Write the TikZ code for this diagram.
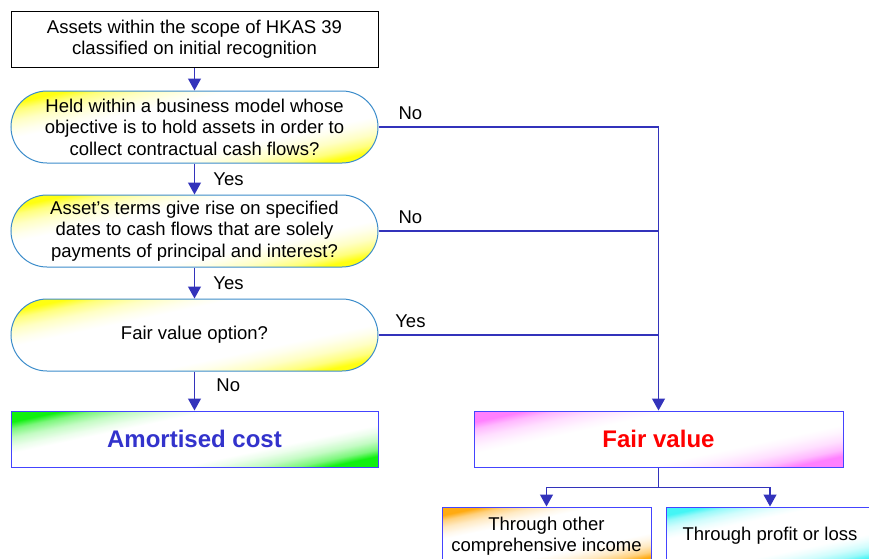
\documentclass[tikz,border=0pt]{standalone}
\usepackage{fontspec}
\setmainfont{Liberation Sans}
\usetikzlibrary{arrows.meta}
\definecolor{conncol}{HTML}{3333BB}
\definecolor{qborder}{HTML}{3C8DCB}
\definecolor{rborder}{HTML}{4444FF}
\definecolor{cY}{HTML}{FFFF11}
\definecolor{cG}{HTML}{11F011}
\definecolor{cV}{HTML}{FF80FF}
\definecolor{cO}{HTML}{FFAA11}
\definecolor{cC}{HTML}{44F5F5}
\definecolor{acblue}{HTML}{3333CC}
\newcommand\mkdiag[2]{\pgfdeclareverticalshading{#1}{100bp}{color(0bp)=(#2); color(25bp)=(#2); color(28bp)=(#2!55!white); color(32bp)=(#2!25!white); color(36bp)=(#2!8!white); color(39bp)=(white); color(61bp)=(white); color(64bp)=(#2!8!white); color(68bp)=(#2!25!white); color(72bp)=(#2!55!white); color(75bp)=(#2); color(100bp)=(#2)}}
\mkdiag{diagY}{cY}
\mkdiag{diagG}{cG}
\mkdiag{diagV}{cV}
\mkdiag{diagO}{cO}
\mkdiag{diagC}{cC}
\begin{document}
\begin{tikzpicture}[x=1pt,y=-1pt,
  txt/.style={font=\fontsize{18.5}{21.5}\selectfont, align=center},
  startbox/.style={txt, draw=black, line width=1pt, fill=white, minimum width=367pt, minimum height=56pt, inner sep=0pt},
  question/.style={txt, shade, shading=diagY, shading angle=12, draw=qborder, line width=1pt, rounded corners=36pt, minimum width=367pt, minimum height=72pt, inner sep=0pt},
  result/.style={shade, shading angle=12, draw=rborder, line width=1pt, minimum height=56pt, inner sep=0pt, font=\fontsize{24}{28}\selectfont\bfseries},
  sub/.style={txt, shade, shading angle=12, draw=rborder, line width=1pt, minimum height=58pt, inner sep=0pt},
  conn/.style={draw=conncol, line width=1.2pt},
  arr/.style={conn, -{Triangle[width=13pt,length=12pt]}},
  lbl/.style={font=\fontsize{18.5}{21.5}\selectfont, text=black}
]
\clip (0,0) rectangle (869,558);
\fill[white] (0,0) rectangle (869,558);

\node[startbox] (start) at (194.5,39) {Assets within the scope of HKAS 39\\classified on initial recognition};
\node[question] (q1) at (194.5,127) {Held within a business model whose\\objective is to hold assets in order to\\collect contractual cash flows?};
\node[question] (q2) at (194.5,231) {Asset’s terms give rise on specified\\dates to cash flows that are solely\\payments of principal and interest?};
\node[question] (q3) at (194.5,335) {Fair value option?};
\node[result, shading=diagG, minimum width=367pt, text=acblue] (ac) at (194.5,439) {Amortised cost};
\node[result, shading=diagV, minimum width=369pt, text=red] (fv) at (658.5,439) {Fair value};
\node[sub, shading=diagO, minimum width=209pt] (oci) at (546.5,536) {Through other\\comprehensive income};
\node[sub, shading=diagC, minimum width=208pt] (pl) at (770,536) {Through profit or loss};

\coordinate (j1) at (fv.north |- q1.east);
\coordinate (j2) at (fv.north |- q2.east);
\coordinate (j3) at (fv.north |- q3.east);

\draw[arr] (start) -- (q1);
\draw[arr] (q1) -- node[lbl, right=15pt]{Yes} (q2);
\draw[arr] (q2) -- node[lbl, right=15pt]{Yes} (q3);
\draw[arr] (q3) -- node[lbl, pos=0.35, right=18pt]{No} (ac);

\draw[arr] (q1.east) -- node[lbl, pos=0.114, above=3pt]{No} (j1) -- (fv.north);
\draw[conn] (q2.east) -- node[lbl, pos=0.114, above=3pt]{No} (j2);
\draw[conn] (q3.east) -- node[lbl, pos=0.114, above=3pt]{Yes} (j3);

\coordinate (split) at ([yshift=-20pt]fv.south);
\draw[conn] (fv.south) -- (split);
\draw[arr] (split) -| (oci.north);
\draw[arr] (split) -| (pl.north);
\end{tikzpicture}
\end{document}
